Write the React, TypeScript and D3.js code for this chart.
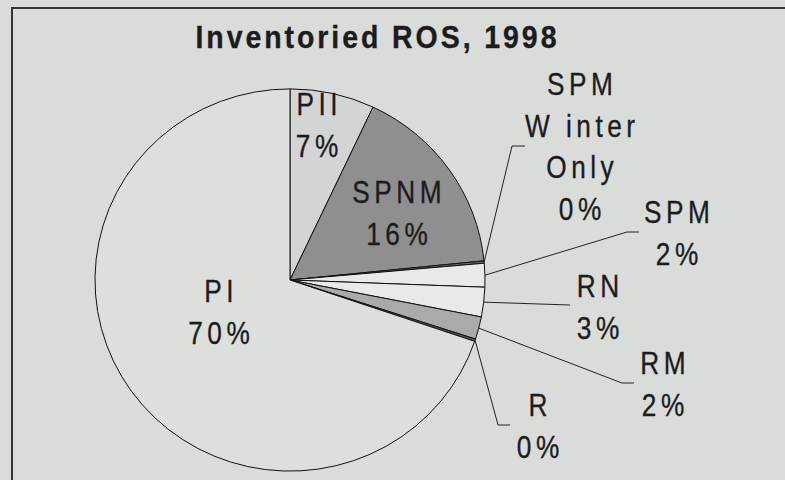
import React from "react";
import * as d3 from "d3";

const categories = ["PII", "SPNM", "SPM Winter Only", "SPM", "RN", "RM", "R", "PI"];
const values = [7.0, 16.4, 0.2, 2.0, 2.5, 1.9, 0.2, 69.8];
const labelLines = [["PII"], ["SPNM"], ["SPM", "W inter", "Only"], ["SPM"], ["RN"], ["RM"], ["R"], ["PI"]];
const title = "Inventoried ROS, 1998";

const fills = ["#d3d5d4", "#8e8f8e", "#6a6a6a", "#e8e9e8", "#e8e9e8", "#a9aaa9", "#5a5a5a", "#dddfdd"];

// label layout: center x, first baseline y, optional leader elbow/end
const layout: Record<string, { x: number; y: number; elbow?: [number, number]; end?: [number, number] }> = {
  PII: { x: 317, y: 115 },
  SPNM: { x: 397, y: 203 },
  "SPM Winter Only": { x: 580, y: 95, elbow: [512, 146], end: [525, 146] },
  SPM: { x: 677, y: 223, elbow: [627, 232], end: [639, 232] },
  RN: { x: 598, y: 297, end: [570, 305] },
  RM: { x: 663, y: 374, elbow: [622, 383], end: [634, 383] },
  R: { x: 538, y: 416, elbow: [498, 425], end: [510, 425] },
  PI: { x: 219, y: 302 },
};

const W = 785, H = 480;
const cx = 290, cy = 280, R = 195, ry = 0.98;
const FS = 32, SX = 0.82, LS = 5.5, LH = 41.5;
const FONT = "'Liberation Sans', Arial, sans-serif";

export default function App() {
  const pie = d3.pie<number>().sort(null).value((d) => d).startAngle(0).endAngle(2 * Math.PI);
  const arcs = pie(values);
  const arcGen = d3.arc<d3.PieArcDatum<number>>().innerRadius(0).outerRadius(R);

  const text = (str: string, x: number, y: number, key: string, opts: any = {}) => {
    const ls = opts.ls ?? LS;
    const sx = opts.sx ?? SX;
    return (
      <g key={key} transform={`translate(${x + (ls * sx) / 2},${y}) scale(${sx},1)`}>
        <text
          textAnchor="middle"
          fontFamily={FONT}
          fontSize={opts.fs ?? FS}
          fontWeight={opts.bold ? "bold" : "normal"}
          letterSpacing={ls}
          fill="#1c1c1c"
          stroke="#1c1c1c"
          strokeWidth={0.35}
        >
          {str}
        </text>
      </g>
    );
  };

  return (
    <svg width={W} height={H} style={{ position: "absolute", left: 0, top: 0, display: "block" }}>
      <rect x={0} y={0} width={W} height={H} fill="#d9dcd9" />
      <line x1={11} y1={8} x2={W} y2={8} stroke="#333" strokeWidth={2} />
      <line x1={12} y1={8} x2={12} y2={H} stroke="#333" strokeWidth={2} />
      {text(title, 376, 48, "title", { fs: 32, bold: true, sx: 0.89, ls: 3.3 })}
      <g transform={`translate(${cx},${cy}) scale(1,${ry})`}>
        {arcs.map((a, i) => (
          <path key={i} d={arcGen(a) || ""} fill={fills[i]} stroke="#111" strokeWidth={1} vectorEffect="non-scaling-stroke" />
        ))}
      </g>
      {arcs.map((a, i) => {
        const name = categories[i];
        const L = layout[name];
        const lines = [...labelLines[i], `${Math.round(values[i])}%`];
        const out: React.ReactNode[] = [];
        if (L.end) {
          const mid = (a.startAngle + a.endAngle) / 2;
          const px = cx + R * Math.sin(mid);
          const py = cy - R * Math.cos(mid) * ry;
          const pts = [[px, py], ...(L.elbow ? [L.elbow] : []), L.end];
          out.push(
            <polyline key={`l${i}`} points={pts.map((p) => p.join(",")).join(" ")} fill="none" stroke="#222" strokeWidth={1} />
          );
        }
        lines.forEach((s, j) => out.push(text(s, L.x, L.y + j * LH, `t${i}-${j}`)));
        return <g key={name}>{out}</g>;
      })}
    </svg>
  );
}
